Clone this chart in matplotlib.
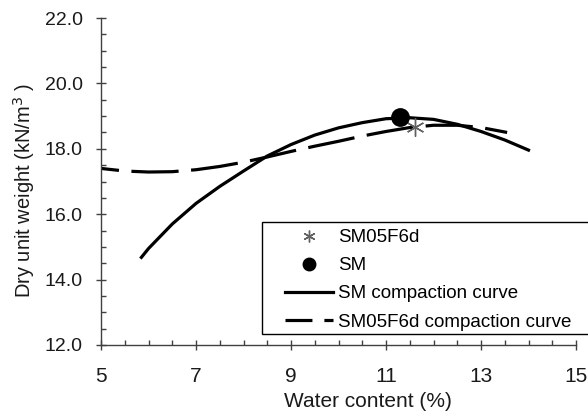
import matplotlib
matplotlib.use('Agg')
import matplotlib.pyplot as plt
from matplotlib.ticker import FixedLocator, MultipleLocator, FormatStrFormatter
from matplotlib.lines import Line2D
from matplotlib.patches import Rectangle

plt.rcParams['font.family'] = ['Liberation Sans', 'DejaVu Sans']
plt.rcParams['lines.scale_dashes'] = False

# SM compaction curve
sm_w = [5.85, 6.0, 6.5, 7.0, 7.5, 8.0, 8.5, 9.0, 9.5, 10.0, 10.5, 11.0, 11.5, 12.0, 12.5, 13.0, 13.5, 14.0]
sm_g = [14.68, 14.95, 15.7, 16.33, 16.85, 17.32, 17.78, 18.13, 18.42, 18.64, 18.8, 18.92, 18.95, 18.9, 18.75, 18.53, 18.27, 17.96]

# SM05F6d compaction curve
sf_w = [5.0, 5.5, 6.0, 6.5, 7.0, 7.5, 8.0, 8.5, 9.0, 9.5, 10.0, 10.5, 11.0, 11.5, 12.0, 12.5, 13.0, 13.55]
sf_g = [17.4, 17.32, 17.29, 17.3, 17.36, 17.46, 17.59, 17.75, 17.92, 18.08, 18.23, 18.39, 18.53, 18.65, 18.72, 18.72, 18.65, 18.5]

# optimum points
pt_sm = (11.3, 18.97)
pt_sf = (11.6, 18.67)

xticks = [5, 7, 9, 11, 13, 15]
labels = ['SM05F6d', 'SM', 'SM compaction curve', 'SM05F6d compaction curve']

fig = plt.figure(figsize=(5.88, 4.16), dpi=100)
ax = fig.add_axes([0.1718, 0.1707, 0.8078, 0.786])

ax.plot(sm_w, sm_g, color='black', lw=2.3)
ax.plot(sf_w, sf_g, color='black', lw=2.3, ls=(21, (34, 9)))
ax.plot(*pt_sf, marker=(6, 2, 0), ms=13, color='#606060', mew=1, ls='none')
ax.plot(*pt_sm, marker='o', ms=12.5, color='black', ls='none')

ax.set_xlim(5, 15)
ax.set_ylim(12, 22)
ax.xaxis.set_major_locator(FixedLocator(xticks))
ax.xaxis.set_minor_locator(MultipleLocator(0.5))
ax.yaxis.set_major_locator(MultipleLocator(2))
ax.yaxis.set_minor_locator(MultipleLocator(0.5))
ax.yaxis.set_major_formatter(FormatStrFormatter('%.1f'))
ax.spines['top'].set_visible(False)
ax.spines['right'].set_visible(False)
for s in ('left', 'bottom'):
    ax.spines[s].set_color('#404040')
    ax.spines[s].set_linewidth(1)
# tick lengths in points: ~5 px each side of the spine
ax.tick_params(which='major', direction='inout', length=7.2, width=1, color='#404040', labelcolor='#1a1a1a')
ax.tick_params(which='minor', direction='in', length=3.6, width=1, color='#404040')
ax.tick_params(axis='x', which='major', labelsize=15, pad=12)
ax.tick_params(axis='y', which='major', labelsize=14, pad=9.4)

ax.set_xlabel('Water content (%)', fontsize=15, color='#1a1a1a')
ax.set_ylabel('Dry unit weight (kN/m$^3$ )', fontsize=14.5, color='#1a1a1a')
ax.xaxis.set_label_coords(0.561, -0.145)
ax.yaxis.set_label_coords(-0.135, 0.474)

# legend frame runs past the right edge of the figure
frame = Rectangle((262 / 588, 1 - 334 / 416), 0.6, 112 / 416, transform=fig.transFigure,
                  facecolor='white', edgecolor='black', lw=1, clip_on=False, zorder=4)
ax.add_patch(frame)

handles = [
    Line2D([], [], marker=(6, 2, 0), ms=8.5, color='#606060', mew=1, ls='none'),
    Line2D([], [], marker='o', ms=9, color='black', ls='none'),
    Line2D([], [], color='black', lw=2.3),
    Line2D([], [], color='black', lw=2.3, dashes=(19.4, 8.6)),
]
leg = ax.legend(handles, labels, loc='upper left', bbox_to_anchor=(285 / 588, 1 - 229 / 416),
                bbox_transform=fig.transFigure, fontsize=13.5, frameon=False,
                handlelength=2.56, handletextpad=0.27, labelspacing=0.59,
                borderpad=0, borderaxespad=0)
leg.set_zorder(5)

fig.savefig('out.png', dpi=100)
